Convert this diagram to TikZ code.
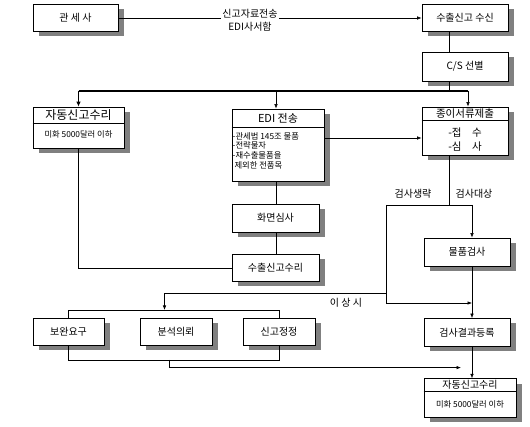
\documentclass[tikz,border=0pt]{standalone}
\usepackage{fontspec}
\setmainfont{Noto Sans CJK KR}
\usetikzlibrary{arrows.meta,shadows}
\begin{document}
\begin{tikzpicture}[x=1pt,y=-1pt,
 box/.style={draw, fill=white, line width=0.7pt, inner sep=0pt,
   drop shadow={shadow xshift=6pt, shadow yshift=-5pt, fill=black!50, opacity=1},
   font=\fontsize{10}{12}\selectfont},
 ln/.style={line width=0.6pt},
 thick line/.style={line width=1.4pt},
 arr/.style={ln, -{Latex[length=4.5pt,width=3.5pt]}},
 tarr/.style={thick line, -{Latex[length=5pt,width=4.5pt]}},
 lbl/.style={font=\fontsize{10}{13}\selectfont, inner sep=1pt},
 small/.style={font=\fontsize{8.3}{9}\selectfont, inner sep=0pt},
]
\useasboundingbox (0,0) rectangle (530,427);
\fill[white] (0,0) rectangle (530,427);

% boxes
\node[box, minimum width=85pt, minimum height=27pt] (guanse) at (75.5,18) {관 세 사};
\node[box, minimum width=86pt, minimum height=27pt] (recv) at (465,18) {수출신고 수신};
\node[box, minimum width=86pt, minimum height=29pt] (cs) at (465,66.5) {C/S 선별};

\node[box, minimum width=91pt, minimum height=41pt] (auto1) at (78.5,127.5) {};
\node[font=\fontsize{12}{14}\selectfont, inner sep=0pt] (auto1t) at (78.5,115) {자동신고수리};
\node[small] (auto1s) at (78.5,134.5) {미화 5000달러 이하};
\draw[line width=0.5pt] (auto1.west |- 0,123) -- (auto1.east |- 0,123);

\node[box, minimum width=92pt, minimum height=72pt] (edi) at (278,145) {};
\node[font=\fontsize{11}{13}\selectfont, inner sep=0pt] (edit) at (278,118) {EDI 전송};
\draw[line width=0.5pt] (edi.west |- 0,127) -- (edi.east |- 0,127);
\node[font=\fontsize{8.3}{9.8}\selectfont, inner sep=0pt, anchor=north west, align=left] (edib) at (232.5,132)
 {-관세법 145조 물품\\-전략물자\\-재수출물품을\\\ 제외한 전품목};

\node[box, minimum width=86pt, minimum height=48pt] (paper) at (465,131) {};
\node[font=\fontsize{10.5}{12}\selectfont, inner sep=0pt] (papert) at (465,113.5) {종이서류제출};
\draw[line width=0.5pt] (paper.west |- 0,120) -- (paper.east |- 0,120);
\node[font=\fontsize{10.5}{14}\selectfont, inner sep=0pt, align=left] (paperb) at (465,140) {-접\quad 수\\-심\quad 사};

\node[box, minimum width=87pt, minimum height=28pt] (screen) at (275.5,218) {화면심사};
\node[box, minimum width=87pt, minimum height=27pt] (accept) at (275.5,267.5) {수출신고수리};
\node[box, minimum width=86pt, minimum height=28pt] (goods) at (467,252) {물품검사};

\node[box, minimum width=71pt, minimum height=27pt] (bo) at (68.5,332) {보완요구};
\node[box, minimum width=72pt, minimum height=27pt] (bun) at (176,332) {분석의뢰};
\node[box, minimum width=72pt, minimum height=27pt] (sin) at (279,332) {신고정정};
\node[box, minimum width=86pt, minimum height=28pt] (result) at (467,332.5) {검사결과등록};

\node[box, minimum width=92pt, minimum height=38.5pt] (auto2) at (470,398) {};
\node[font=\fontsize{10}{11}\selectfont, inner sep=0pt] (auto2t) at (470,384.5) {자동신고수리};
\node[small] (auto2s) at (470,404) {미화 5000달러 이하};
\draw[line width=0.5pt] (auto2.west |- 0,391) -- (auto2.east |- 0,391);

% connectors
\draw[arr] (guanse.east) -- (recv.west);
\node[lbl, fill=white, align=center] (toplbl) at (250,20) {신고자료전송\\EDI사서함};

\draw[ln] (449,0 |- recv.south) -- (449,0 |- cs.north);
\coordinate (jtop) at (449,91);
\draw[ln] (449,0 |- cs.south) -- (jtop);
\draw[thick line] (78.5,91) -- (468,91);
\draw[tarr] (78.5,91) -- (auto1.north);
\draw[arr] (276,91) -- (276,0 |- edi.north);
\draw[arr] (468,91) -- (468,0 |- paper.north);

\draw[arr] (edi.east |- 0,138) -- (paper.west |- 0,138);

\draw[ln] (auto1.south) -- (78.5,268) -- (accept.west |- 0,268);
\draw[ln] (276,0 |- edi.south) -- (276,0 |- screen.north);
\draw[ln] (276,0 |- screen.south) -- (276,0 |- accept.north);

\coordinate (jmid) at (449,205);
\draw[ln] (449,0 |- paper.south) -- (jmid);
\node[lbl] (skip) at (413,194) {검사생략};
\node[lbl] (target) at (474,194) {검사대상};
\draw[ln] (386,205) -- (472,205);
\draw[arr] (472,205) -- (472,0 |- goods.north);
\draw[ln] (386,205) -- (386,303);
\draw[arr] (386,303) -- (472,303);
\draw[arr] (386,293) -- (164.5,293) -- (164.5,310);
\node[lbl] (abn) at (346,303) {이 상 시};

\draw[arr] (472,0 |- goods.south) -- (472,0 |- result.north);
\draw[arr] (472,0 |- result.south) -- (472,0 |- auto2.north);

\draw[ln] (bo.north) -- (68.5,310) -- (279,310) -- (sin.north);
\draw[ln] (bo.south) -- (68.5,360) -- (279,360) -- (sin.south);
\draw[arr] (169,360) -- (169,367.6) -- (461,367.6);
\end{tikzpicture}
\end{document}
